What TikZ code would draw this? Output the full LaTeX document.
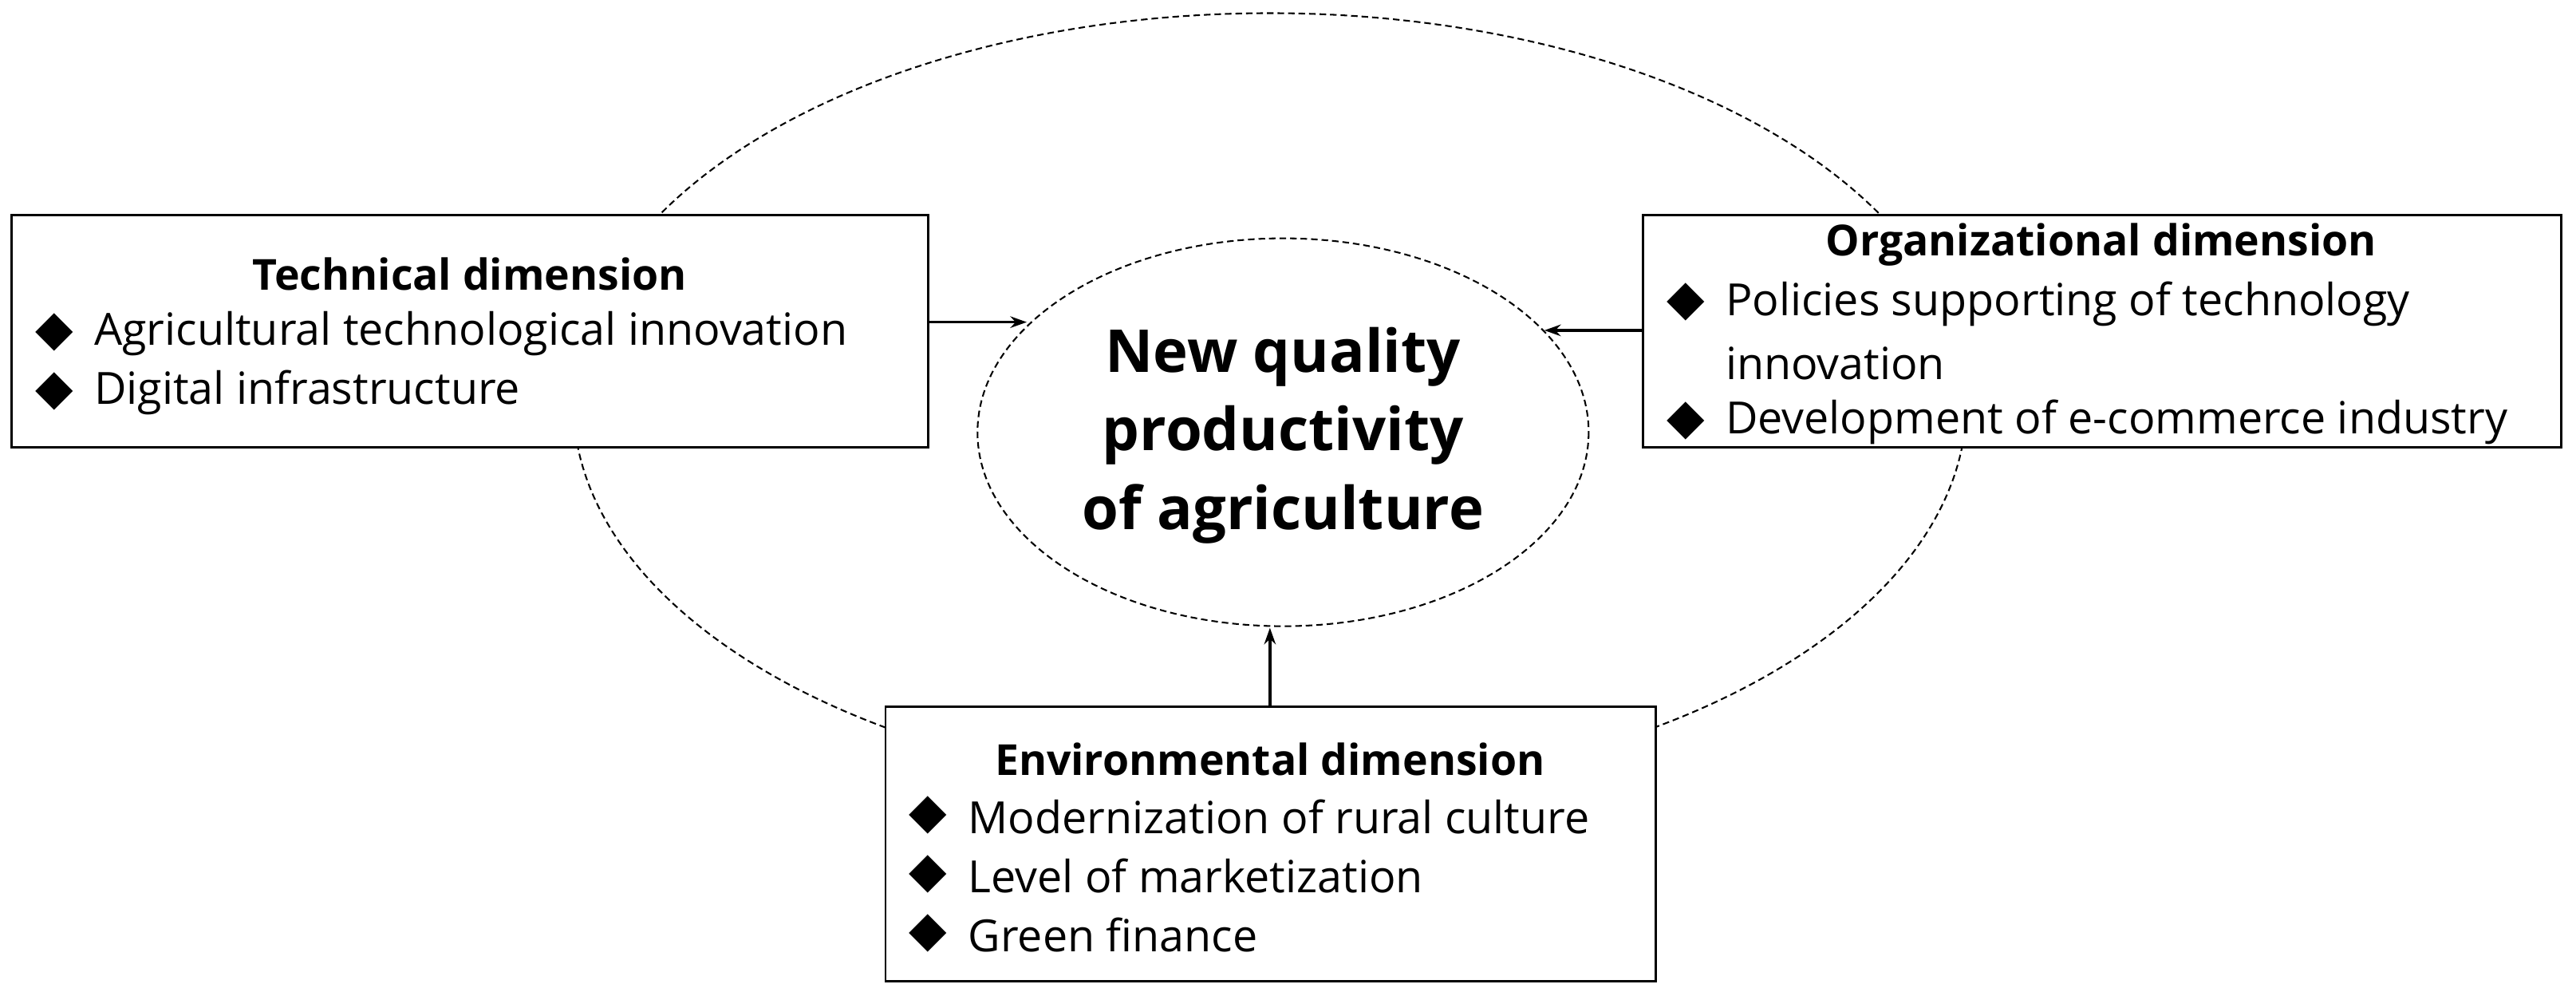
\documentclass[tikz,border=0pt]{standalone}
\usepackage{fontspec}
\setmainfont{Open Sans}
\newfontfamily\symfont{DejaVu Sans}
\usetikzlibrary{arrows.meta}
\tikzset{
 px/.style={x=0.5pt,y=-0.5pt},
 dashline/.style={draw,dashed,dash pattern=on 2pt off 1.2pt,line width=0.5pt},
 boxx/.style={draw,fill=white,line width=0.7pt},
 ttl/.style={font=\fontsize{13}{16}\selectfont\bfseries,inner sep=0},
 itm/.style={font=\fontsize{13.5}{16}\selectfont,anchor=west,inner sep=0},
 bul/.style={font=\fontsize{15}{16}\selectfont\symfont,inner sep=0},
 arr/.style={-{Stealth[length=5pt,width=3.5pt,open]},line width=0.9pt}
}
\begin{document}
\begin{tikzpicture}[px]
\useasboundingbox (0,0) rectangle (1568,606);
\draw[dashline] (773,245) ellipse [x radius=424, y radius=237];
\draw[dashline] (781,263) ellipse [x radius=186, y radius=118];
\node[font=\fontsize{18}{24}\selectfont\bfseries,align=center] (c) at (781,265) {New quality\\productivity\\of agriculture};
\coordinate (inL) at (625,196);
\coordinate (inR) at (940,201);
\coordinate (inB) at (773,382);
% technical
\draw[boxx] (7,131) rectangle (565,272);
\node[ttl] (t0) at (286,167) {Technical dimension};
\node[bul] (tb1) at (33,202) {◆}; \node[itm] (t1) at (57,203) {Agricultural technological innovation};
\node[bul] (tb2) at (33,238) {◆}; \node[itm] (t2) at (57,239) {Digital infrastructure};
% organizational
\draw[boxx] (1000,131) rectangle (1559,272);
\node[ttl] (o0) at (1279,149) {Organizational dimension};
\node[bul] (ob1) at (1026,184) {◆}; \node[itm] (o1) at (1050,185) {Policies supporting of technology};
\node[itm] (o1b) at (1050,221) {innovation};
\node[bul] (ob2) at (1026,256) {◆}; \node[itm] (o2) at (1050,257) {Development of e-commerce industry};
% environmental
\draw[boxx] (539,430) rectangle (1008,597);
\node[ttl] (e0) at (773,462) {Environmental dimension};
\node[bul] (eb1) at (565,496) {◆}; \node[itm] (e1) at (589,497) {Modernization of rural culture};
\node[bul] (eb2) at (565,532) {◆}; \node[itm] (e2) at (589,533) {Level of marketization};
\node[bul] (eb3) at (565,568) {◆}; \node[itm] (e3) at (589,569) {Green finance};
\coordinate (tR) at (565,196);
\coordinate (oL) at (1000,201);
\coordinate (eT) at (773,430);
\draw[arr] (tR) -- (inL);
\draw[arr] (oL) -- (inR);
\draw[arr] (eT) -- (inB);
\end{tikzpicture}
\end{document}
